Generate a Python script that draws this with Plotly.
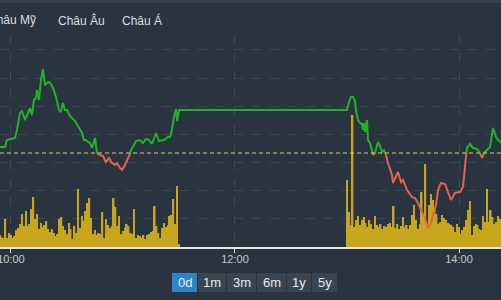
import pandas as pd
import plotly.graph_objects as go

DAY = "2024-01-15"
REF_PRICE = 1169.4

# Intraday price line (time, price)
line_times = [
    "09:54:05", "09:56:47", "09:57:51", "10:00:32", "10:02:09", "10:03:13", "10:04:49", "10:05:54",
    "10:07:30", "10:09:06", "10:10:11", "10:11:15", "10:12:19", "10:13:24", "10:13:56", "10:15:00",
    "10:16:04", "10:17:08", "10:18:13", "10:19:17", "10:20:21", "10:21:26", "10:22:30", "10:24:06",
    "10:25:43", "10:26:47", "10:27:51", "10:28:56", "10:30:00", "10:31:36", "10:34:17", "10:35:54",
    "10:38:02", "10:39:06", "10:40:11", "10:41:15", "10:42:19", "10:43:24", "10:44:28", "10:45:00",
    "10:46:04", "10:47:41", "10:49:17", "10:50:53", "10:52:30", "10:54:06", "10:55:43", "10:56:47",
    "10:58:23", "10:59:28", "11:01:04", "11:02:41", "11:03:45", "11:04:17", "11:05:54", "11:06:58",
    "11:09:06", "11:10:43", "11:12:19", "11:13:56", "11:15:32", "11:17:41", "11:19:17", "11:21:58",
    "11:24:06", "11:25:11", "11:26:15", "11:27:19", "11:28:24", "11:29:00", "11:30:00",
    "13:00:00", "13:01:04", "13:02:09", "13:03:13", "13:04:17", "13:04:49", "13:05:54", "13:06:58",
    "13:08:02", "13:08:34", "13:09:06", "13:09:39", "13:10:43", "13:11:15", "13:12:19", "13:13:56",
    "13:15:00", "13:16:36", "13:17:41", "13:18:45", "13:19:49", "13:20:53", "13:21:58", "13:24:06",
    "13:24:39", "13:26:47", "13:27:19", "13:28:56", "13:30:00", "13:32:09", "13:34:49", "13:36:26",
    "13:38:02", "13:40:11", "13:41:47", "13:43:23", "13:45:00", "13:46:04", "13:47:41", "13:48:45",
    "13:50:21", "13:52:30", "13:53:34", "13:55:43", "13:57:51", "14:00:32", "14:02:09", "14:03:13",
    "14:04:17", "14:05:54", "14:07:30", "14:09:39", "14:11:15", "14:12:19", "14:13:24", "14:15:00",
    "14:16:37", "14:18:13", "14:19:49", "14:20:53", "14:22:30", "14:25:00",
]
line_prices = [
    1170.0, 1170.0, 1170.7, 1170.8, 1170.9, 1171.7, 1173.4, 1173.6,
    1172.7, 1173.4, 1173.9, 1173.2, 1174.7, 1174.9, 1175.7, 1174.7,
    1176.7, 1177.8, 1176.2, 1176.4, 1176.5, 1176.3, 1175.9, 1175.0,
    1173.7, 1173.5, 1174.4, 1173.7, 1173.7, 1173.1, 1172.6, 1172.1,
    1171.4, 1170.7, 1170.7, 1170.5, 1170.4, 1169.9, 1170.6, 1170.9,
    1169.4, 1169.2, 1169.1, 1168.5, 1168.9, 1168.4, 1168.2, 1168.4,
    1167.9, 1167.7, 1168.2, 1168.9, 1169.2, 1169.7, 1170.2, 1170.6,
    1170.7, 1170.4, 1170.8, 1170.7, 1170.3, 1171.4, 1170.6, 1170.7,
    1171.0, 1171.0, 1171.7, 1173.0, 1173.8, 1172.6, 1173.7,
    1173.7, 1174.5, 1175.0, 1175.0, 1174.6, 1173.7, 1172.7, 1172.4,
    1172.3, 1171.7, 1172.4, 1171.5, 1172.7, 1170.7, 1170.4, 1169.2,
    1169.4, 1170.5, 1170.1, 1169.5, 1169.7, 1169.2, 1168.4, 1167.2,
    1166.4, 1167.4, 1167.5, 1166.5, 1166.7, 1165.7, 1165.0, 1164.9,
    1164.4, 1163.5, 1162.9, 1161.9, 1162.4, 1163.2, 1164.2, 1165.7,
    1166.4, 1166.3, 1165.7, 1164.7, 1165.4, 1165.5, 1166.0, 1168.4,
    1169.9, 1170.3, 1169.9, 1169.8, 1169.4, 1168.9, 1169.4, 1169.7,
    1170.0, 1171.9, 1171.0, 1170.7, 1170.5, 1170.2,
]

# Per-minute volume (morning from 09:54, afternoon from 13:00)
morning_start = "09:54"
morning_volume = [
    12, 10, 9, 28, 9, 14, 12, 9, 11, 17, 19,
    23, 33, 21, 36, 21, 23, 38, 50, 28, 33,
    18, 24, 20, 22, 26, 18, 15, 18, 14, 11, 13,
    28, 30, 21, 17, 13, 24, 18, 8, 21, 14, 58,
    19, 31, 26, 36, 44, 49, 29, 13, 17, 12,
    14, 13, 35, 9, 28, 22, 19, 21, 49, 40, 21,
    31, 13, 16, 19, 23, 21, 14, 13, 38, 9, 12,
    11, 9, 12, 8, 12, 13, 15, 16, 41, 21,
    14, 9, 19, 24, 20, 22, 31, 32, 48, 23, 61, 3,
]
afternoon_start = "13:00"
afternoon_volume = [
    67, 35, 22, 132, 20, 27, 31, 22, 27, 30, 24,
    20, 27, 23, 18, 31, 22, 20, 23, 18, 21,
    20, 23, 24, 20, 41, 19, 23, 18, 21, 30, 20,
    22, 18, 22, 32, 42, 27, 18, 23, 55, 33,
    83, 23, 42, 53, 47, 37, 33, 23, 25, 32,
    29, 27, 24, 23, 22, 20, 15, 23, 20, 13, 17, 20,
    27, 37, 46, 12, 21, 23, 22, 18, 17, 31,
    25, 58, 25, 37, 30, 23, 25, 31, 28, 22,
]

tabs = ["Châu Mỹ", "Châu Âu", "Châu Á"]
range_buttons = ["0d", "1m", "3m", "6m", "1y", "5y"]
x_tick_labels = ["10:00", "12:00", "14:00"]

BG = "#2a3440"
GRID = "#3d4855"
GREEN = "#22b428"
RED = "#e5634f"
BAR = "#c8a61c"

# ---- split price line into above/below reference runs ----
ts = pd.to_datetime([f"{DAY} {t}" for t in line_times])
tn = ts.astype("int64").tolist()
runs = []
cur = [(tn[0], line_prices[0])]
for i in range(1, len(tn)):
    a_prev = line_prices[i - 1] >= REF_PRICE
    a_cur = line_prices[i] >= REF_PRICE
    if a_prev != a_cur:
        frac = (REF_PRICE - line_prices[i - 1]) / (line_prices[i] - line_prices[i - 1])
        tc = tn[i - 1] + frac * (tn[i] - tn[i - 1])
        cur.append((tc, REF_PRICE))
        runs.append((a_prev, cur))
        cur = [(tc, REF_PRICE)]
    cur.append((tn[i], line_prices[i]))
runs.append((line_prices[-1] >= REF_PRICE, cur))

gx, gy, rx, ry = [], [], [], []
for above, pts in runs:
    xs = [pd.Timestamp(int(p[0])) for p in pts]
    ys = [p[1] for p in pts]
    if above:
        gx += xs + [None]; gy += ys + [None]
    else:
        rx += xs + [None]; ry += ys + [None]

mt = pd.date_range(f"{DAY} {morning_start}", periods=len(morning_volume), freq="min")
at = pd.date_range(f"{DAY} {afternoon_start}", periods=len(afternoon_volume), freq="min")
vol_t = list(mt) + list(at)
vol_v = morning_volume + afternoon_volume

fig = go.Figure()
fig.add_trace(go.Bar(x=vol_t, y=vol_v, marker=dict(color=BAR, line=dict(width=0)),
                     yaxis="y", hoverinfo="skip"))
fig.add_trace(go.Scatter(x=gx, y=gy, mode="lines", line=dict(color=GREEN, width=2),
                         yaxis="y2", hoverinfo="skip", connectgaps=False))
fig.add_trace(go.Scatter(x=rx, y=ry, mode="lines", line=dict(color=RED, width=2),
                         yaxis="y2", hoverinfo="skip", connectgaps=False))

W, H = 501, 300
T, B = 35, 53
PH = H - T - B

def py(ypix):
    return (H - B - ypix) / PH

shapes = [
    dict(type="line", xref="paper", yref="y2", x0=0, x1=1, y0=REF_PRICE, y1=REF_PRICE,
         line=dict(color="#e3cc62", width=1, dash="4px,3px"), layer="above"),
    dict(type="rect", xref="paper", yref="paper", x0=0, x1=1, y0=py(3), y1=py(0),
         fillcolor="#36414d", line=dict(width=0)),
]
btn_x = [(172, 197), (198, 226), (227, 256), (257, 286), (287, 311), (312, 337)]
annotations = []
for i, (lab, (x0, x1)) in enumerate(zip(range_buttons, btn_x)):
    shapes.append(dict(type="rect", xref="paper", yref="paper", x0=x0 / W, x1=x1 / W,
                       y0=py(292), y1=py(273),
                       fillcolor="#2b86c8" if i == 0 else "#3a4552", line=dict(width=0)))
    annotations.append(dict(text=lab, xref="paper", yref="paper", x=(x0 + x1) / 2 / W,
                            y=py(282.5), showarrow=False, xanchor="center", yanchor="middle",
                            font=dict(size=13, color="#e8ebee", family="Arial")))

tab_pos = [(38, "right"), (56, "left"), (120, "left")]
for lab, (xp, anc) in zip(tabs, tab_pos):
    annotations.append(dict(text=lab, xref="paper", yref="paper", x=xp / W, y=py(20),
                            showarrow=False, xanchor=anc, yanchor="middle",
                            font=dict(size=12, color="#dadee2", family="Arial")))

fig.update_layout(
    width=W, height=H, margin=dict(l=0, r=0, t=T, b=B, autoexpand=False),
    paper_bgcolor=BG, plot_bgcolor=BG, showlegend=False, bargap=0.18,
    shapes=shapes, annotations=annotations,
    xaxis=dict(type="date", range=[f"{DAY} 09:54:07", f"{DAY} 14:22:30"],
               tickvals=[pd.Timestamp(f"{DAY} {t}") for t in x_tick_labels],
               ticktext=x_tick_labels, ticklabeloverflow="allow", automargin=False,
               ticklabelstandoff=-3,
               showgrid=True, gridcolor=GRID, griddash="dash", gridwidth=1,
               showline=True, linecolor="#e4e6e8", linewidth=1.5,
               ticks="outside", ticklen=4, tickcolor="#e4e6e8", tickwidth=1,
               tickfont=dict(size=11, color="#c3c8ce", family="Arial"),
               zeroline=False, fixedrange=True),
    yaxis=dict(range=[0, PH], tick0=0, dtick=28.15, showgrid=True, gridcolor=GRID,
               griddash="dash", showticklabels=False, zeroline=False, showline=False,
               ticks="", fixedrange=True, automargin=False),
    yaxis2=dict(overlaying="y", range=[1160, 1160 + PH / 10], showgrid=False,
                showticklabels=False, zeroline=False, showline=False, ticks="",
                fixedrange=True, automargin=False),
)

fig.write_html("out.html")
